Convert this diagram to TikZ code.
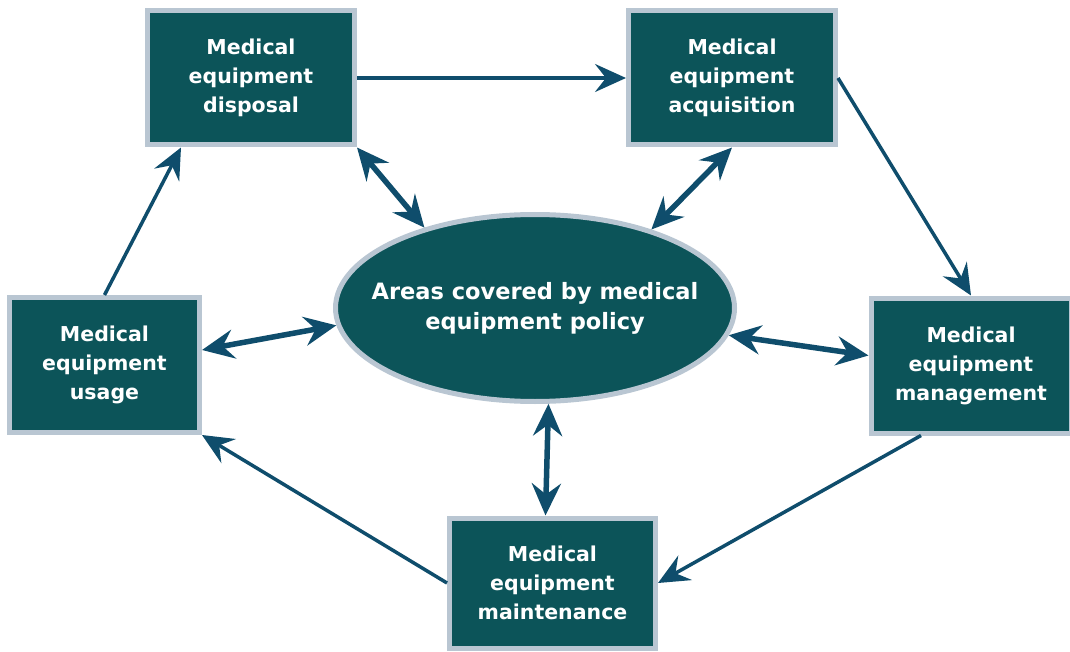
\documentclass[tikz,border=0pt]{standalone}
\usepackage{fontspec}
\setmainfont{DejaVu Sans}
\usepackage{tikz}
\usetikzlibrary{arrows.meta,shapes.geometric}

\definecolor{boxfill}{HTML}{0C5459}
\definecolor{boxline}{HTML}{B9C6D2}
\definecolor{arrowc}{HTML}{0F4D6C}

\tikzset{
  box/.style={draw=boxline, line width=5pt, fill=boxfill, text=white,
    align=center, inner sep=0pt, font=\fontsize{20.5}{29}\selectfont\bfseries},
  pol/.style={box, ellipse, inner xsep=-24pt, font=\fontsize{22.5}{30}\selectfont\bfseries},
  link/.style={draw=arrowc, line width=3.5pt, -{Stealth[length=31pt, width=28pt, inset=11pt]}},
  both/.style={draw=arrowc, line width=5.5pt,
    {Stealth[length=32pt, width=29pt, inset=11pt]}-{Stealth[length=32pt, width=29pt, inset=11pt]}}
}

\begin{document}
\begin{tikzpicture}[x=1pt, y=-1pt]
    \useasboundingbox (0, 0) rectangle (1070, 652);
    \node[box, minimum width=207, minimum height=134] (disp) at (251, 78) {Medical\\equipment\\disposal};
    \node[box, minimum width=207, minimum height=134] (acq) at (732, 78) {Medical\\equipment\\acquisition};
    \node[box, minimum width=190, minimum height=135] (use) at (104.5, 365) {Medical\\equipment\\usage};
    \node[box, minimum width=200, minimum height=135] (mgmt) at (971, 365.5) {Medical\\equipment\\management};
    \node[box, minimum width=206, minimum height=130] (maint) at (552.5, 583) {Medical\\equipment\\maintenance};
    \node[pol, minimum width=399, minimum height=187] (area) at (535, 308) {Areas covered by medical\\equipment policy};
    \draw[link] (disp.east) -- (acq.west);
    \draw[link] (acq.east) -- (mgmt.north);
    \draw[link] ([xshift=-50pt]mgmt.south) -- (maint.east);
    \draw[link] (maint.west) -- (use.south east);
    \draw[link] (use.north) -- ([xshift=36pt]disp.south west);
    \draw[both] (disp.south east) -- (area.144);
    \draw[both] (acq.south) -- (area.34);
    \draw[both] ([yshift=15pt]use.east) -- (area.185);
    \draw[both] ([yshift=10pt]mgmt.west) -- (area.352);
    \draw[both] ([xshift=-7pt]maint.north) -- (area.278);
  \end{tikzpicture}
\end{document}
